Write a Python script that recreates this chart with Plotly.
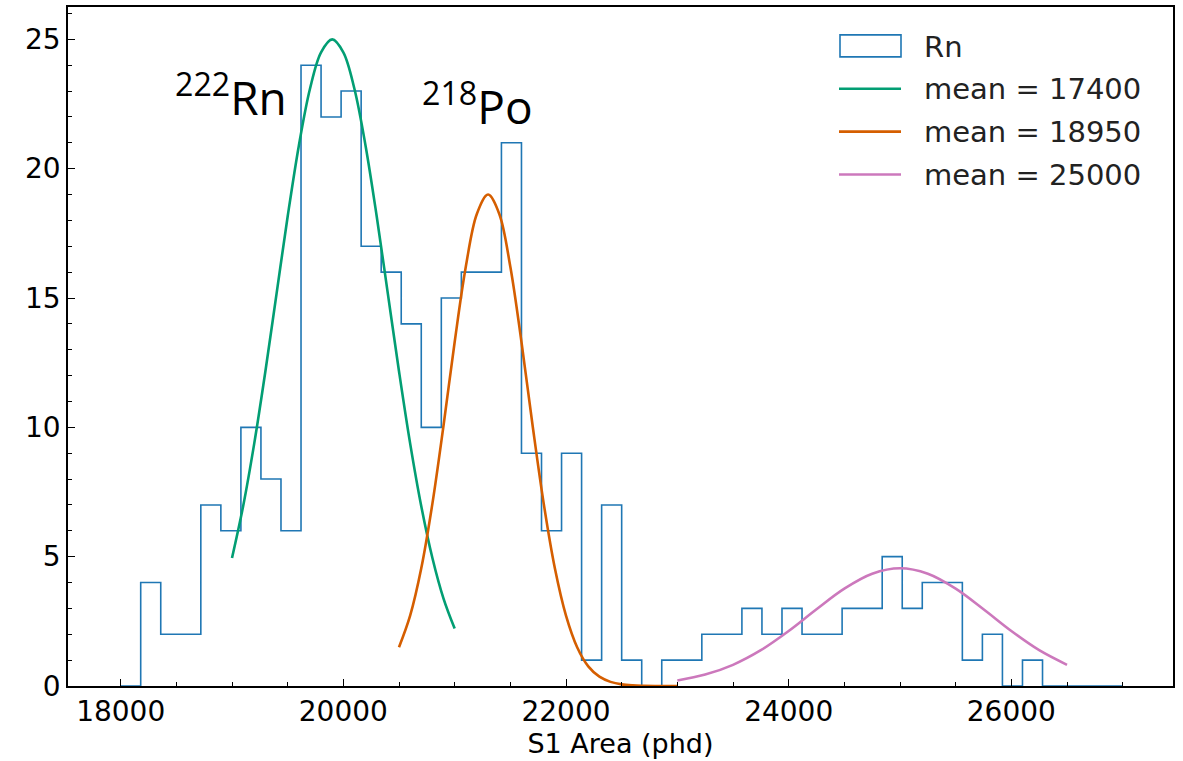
import plotly.graph_objects as go

# ---------------- data ----------------
bin_edges = [18000 + 180 * i for i in range(51)]
rn_counts = [0, 4, 2, 2, 7, 6, 10, 8, 6, 24,
             22, 23, 17, 16, 14, 10, 15, 16, 16, 21,
             9, 6, 9, 1, 7, 1, 0, 1, 1, 2,
             2, 3, 2, 3, 2, 2, 3, 3, 5, 3,
             4, 4, 1, 2, 0, 1, 0, 0, 0, 0]

rn222_x = [19000, 19100, 19200, 19300, 19400, 19500, 19600, 19700, 19800, 19900,
           20000, 20100, 20200, 20300, 20400, 20500, 20600, 20700, 20800, 20900, 21000]
rn222_y = [4.95, 6.95, 9.38, 12.17, 15.16, 18.15, 20.88, 23.08, 24.5, 25.0,
           24.5, 23.08, 20.88, 18.15, 15.16, 12.17, 9.38, 6.95, 4.95, 3.38, 2.22]

po218_x = [20500, 20600, 20700, 20800, 20900, 21000, 21100, 21200, 21300, 21400,
           21500, 21600, 21700, 21800, 21900, 22000, 22100, 22200, 22300, 22400,
           22500, 22600, 22700, 22800, 22900, 23000]
po218_y = [1.50, 2.72, 4.55, 7.05, 10.07, 13.30, 16.21, 18.26, 19.0, 18.26,
           16.21, 13.30, 10.07, 7.05, 4.55, 2.72, 1.50, 0.76, 0.36, 0.16,
           0.063, 0.023, 0.008, 0.0025, 0.0007, 0.0002]

third_x = [23000, 23250, 23500, 23750, 24000, 24250, 24500, 24750, 25000,
           25250, 25500, 25750, 26000, 26250, 26500]
third_y = [0.216, 0.441, 0.819, 1.383, 2.124, 2.964, 3.761, 4.338, 4.55,
           4.338, 3.761, 2.964, 2.124, 1.383, 0.819]

legend_labels = ["Rn", "mean = 17400", "mean = 18950", "mean = 25000"]
peak_labels = ["<sup>222</sup>Rn", "<sup>218</sup>Po"]

# ---------------- styles ----------------
C_BLUE = "#1f77b4"
C_GREEN = "#029e73"
C_ORANGE = "#d55e00"
C_PINK = "#cc78bc"
TICK_FONT = dict(family="DejaVu Sans", size=28, color="black")

W, H = 1183, 761
ML, MR, MT, MB = 68, 10, 5, 75
PW, PH = W - ML - MR, H - MT - MB


def px(x):
    return (x - ML) / PW


def py(y):
    return (H - MB - y) / PH


fig = go.Figure()

step_x = [bin_edges[0]] + bin_edges
step_y = [0] + rn_counts + [0]
fig.add_trace(go.Scatter(x=step_x, y=step_y, mode="lines",
                         line=dict(color=C_BLUE, width=1.6, shape="hv"),
                         name=legend_labels[0], showlegend=False))
for xs, ys, col, lab in [(rn222_x, rn222_y, C_GREEN, legend_labels[1]),
                         (po218_x, po218_y, C_ORANGE, legend_labels[2]),
                         (third_x, third_y, C_PINK, legend_labels[3])]:
    fig.add_trace(go.Scatter(x=xs, y=ys, mode="lines",
                             line=dict(color=col, width=2.6, shape="spline"),
                             name=lab, showlegend=False))

# ---------------- manual legend ----------------
shapes = []
annotations = []
shapes.append(dict(type="rect", xref="paper", yref="paper",
                   x0=px(840), x1=px(901), y0=py(55), y1=py(33),
                   line=dict(color=C_BLUE, width=1.6), fillcolor="rgba(0,0,0,0)"))
row_y = [45, 87, 130, 173]
for col, ry in zip([C_GREEN, C_ORANGE, C_PINK], row_y[1:]):
    shapes.append(dict(type="line", xref="paper", yref="paper",
                       x0=px(839), x1=px(901), y0=py(ry), y1=py(ry),
                       line=dict(color=col, width=2.6)))
for lab, ry in zip(legend_labels, row_y):
    annotations.append(dict(text=lab, xref="paper", yref="paper",
                            x=px(922), y=py(ry), xanchor="left", yanchor="middle",
                            showarrow=False,
                            font=dict(family="DejaVu Sans", size=29, color="#222222")))

# ---------------- peak labels ----------------
for lab, lx, ly in [(peak_labels[0], 173, 128), (peak_labels[1], 420, 137)]:
    annotations.append(dict(text=lab, xref="paper", yref="paper",
                            x=px(lx), y=py(ly), xanchor="left", yanchor="bottom",
                            showarrow=False,
                            font=dict(family="Open Sans", size=46, color="black")))

fig.update_layout(
    width=W, height=H,
    margin=dict(l=ML, r=MR, t=MT, b=MB),
    paper_bgcolor="white", plot_bgcolor="white",
    showlegend=False,
    shapes=shapes, annotations=annotations,
    font=TICK_FONT,
)
fig.update_xaxes(range=[17527, 27452], tick0=0, dtick=2000, tickformat="d",
                 ticks="inside", ticklen=7, tickwidth=1.3, tickcolor="black",
                 minor=dict(dtick=500, ticks="inside", ticklen=4, tickwidth=1.1, tickcolor="black"),
                 showline=True, linecolor="black", linewidth=1.6, mirror=True,
                 showgrid=False, zeroline=False, tickfont=TICK_FONT,
                 title=dict(text="S1 Area (phd)", font=dict(family="DejaVu Sans", size=27, color="black"),
                            standoff=6))
fig.update_yaxes(range=[0, 26.25], tick0=0, dtick=5, tickformat="d",
                 ticks="inside", ticklen=7, tickwidth=1.3, tickcolor="black",
                 minor=dict(dtick=1, ticks="inside", ticklen=4, tickwidth=1.1, tickcolor="black"),
                 showline=True, linecolor="black", linewidth=1.6, mirror=True,
                 showgrid=False, zeroline=False, tickfont=TICK_FONT)

fig.write_html("out.html")
